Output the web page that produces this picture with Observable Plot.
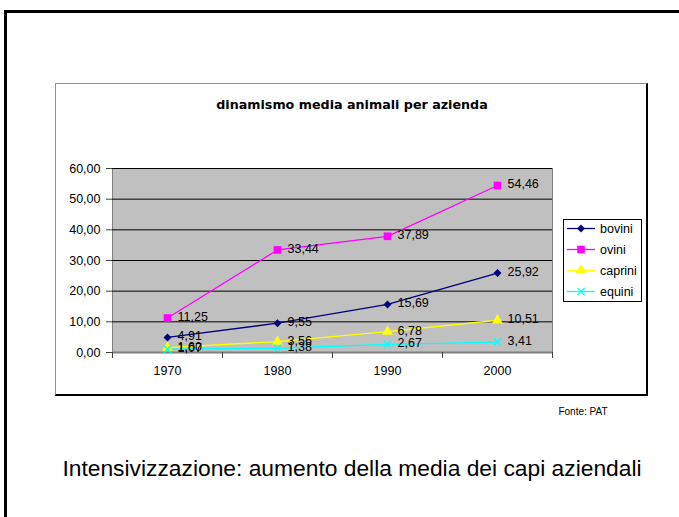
<!DOCTYPE html>
<html><head><meta charset="utf-8">
<script src="https://cdn.jsdelivr.net/npm/d3@7"></script>
<script src="https://cdn.jsdelivr.net/npm/@observablehq/plot@0.6"></script>
<style>
body{margin:0;background:#fff;}
#page{position:relative;width:679px;height:517px;overflow:hidden;font-family:"Liberation Sans",Arial,sans-serif;background:#fff;}
.abs{position:absolute;}
</style></head><body><div id="page">
<div class="abs" style="left:4px;top:10px;width:800px;height:700px;border-left:3px solid #000;border-top:3px solid #000;"></div>
<div class="abs" style="left:55px;top:83px;width:590px;height:310px;border-left:1px solid #909090;border-top:1px solid #909090;border-right:2px solid #000;border-bottom:2px solid #000;"></div>
<div class="abs" style="left:55px;top:97px;width:594px;line-height:16px;text-align:center;font-family:'DejaVu Sans',Verdana,sans-serif;font-weight:bold;font-size:12.7px;color:#000;">dinamismo media animali per azienda</div>
<div id="chart" class="abs" style="left:0;top:0;"></div>
<div id="legend" class="abs" style="left:563px;top:219px;"></div>
<div class="abs" style="left:533px;top:406px;width:100px;text-align:center;font-size:10px;line-height:12px;color:#000;">Fonte: PAT</div>
<div class="abs" style="left:2px;top:455px;width:700px;text-align:center;font-size:22.8px;line-height:26px;color:#000;">Intensivizzazione: aumento della media dei capi aziendali</div>
</div>
<script>
const years = [1970, 1980, 1990, 2000];
const bovini = [4.91, 9.55, 15.69, 25.92];
const ovini = [11.25, 33.44, 37.89, 54.46];
const caprini = [1.60, 3.56, 6.78, 10.51];
const equini = [1.07, 1.38, 2.67, 3.41];
const seriesNames = ["bovini", "ovini", "caprini", "equini"];
const seriesValues = [bovini, ovini, caprini, equini];
const seriesColors = ["#000080", "#ff00ff", "#ffff00", "#00ffff"];
const seriesSymbols = ["diamond2", "square", "triangle", "times"];
const symbolR = [3.6, 4.3, 4.0, 3.4];
const yTicks = [0, 10, 20, 30, 40, 50, 60];
const xSeparators = [1965, 1975, 1985, 1995, 2005];

const fmt = d => d3.format(".2f")(d).replace(".", ",");
const rows = seriesNames.flatMap((name, i) =>
  years.map((yr, j) => ({series: name, year: yr, value: seriesValues[i][j]})));

const dotMarks = seriesNames.map((name, i) => {
  const data = rows.filter(d => d.series === name);
  const opts = {x: "year", y: "value", symbol: () => seriesSymbols[i], r: symbolR[i]};
  if (seriesSymbols[i] === "times") { opts.stroke = seriesColors[i]; opts.strokeWidth = 1.3; opts.fill = "none"; }
  else { opts.fill = seriesColors[i]; opts.stroke = "none"; }
  return Plot.dot(data, opts);
});

const chart = Plot.plot({
  width: 679, height: 517,
  marginLeft: 112, marginRight: 127, marginTop: 168, marginBottom: 165,
  style: {fontFamily: "'Liberation Sans', Arial, sans-serif", fontSize: "12.5px", background: "transparent", color: "#000", overflow: "visible"},
  x: {type: "linear", domain: [1965, 2005]},
  y: {domain: [0, 60]},
  color: {domain: seriesNames, range: seriesColors},
  symbol: {domain: seriesSymbols, range: seriesSymbols},
  marks: [
    Plot.frame({fill: "#c0c0c0", stroke: "#808080"}),
    Plot.ruleY(yTicks.filter(d => d > 0), {stroke: "#000", strokeWidth: 1}),
    Plot.ruleY([0], {stroke: "#808080", strokeWidth: 2}),
    Plot.axisY({ticks: yTicks, tickFormat: fmt, tickSize: 6, tickPadding: 6, label: null, stroke: "#404040"}),
    Plot.axisX({ticks: xSeparators, tickFormat: () => "", tickSize: 6, label: null, stroke: "#404040"}),
    Plot.axisX({ticks: years, tickFormat: d => String(d), tickSize: 0, tickPadding: 14, label: null}),
    Plot.line(rows, {x: "year", y: "value", z: "series", stroke: "series", strokeWidth: 1.3}),
    ...dotMarks,
    Plot.text(rows, {x: "year", y: "value", text: d => fmt(d.value), dx: 10, dy: -1, textAnchor: "start", fontSize: 12.5, fill: "#000"})
  ]
});
document.getElementById("chart").appendChild(chart);

// Legend
const lg = d3.select("#legend").append("svg").attr("width", 80).attr("height", 84);
lg.append("rect").attr("x", 0.5).attr("y", 0.5).attr("width", 78).attr("height", 82).attr("fill", "#fff").attr("stroke", "#000");
const symMap = {diamond2: d3.symbolDiamond2, square: d3.symbolSquare, triangle: d3.symbolTriangle, times: d3.symbolTimes};
seriesNames.forEach((name, i) => {
  const y = 9.5 + i * 21;
  const g = lg.append("g");
  g.append("line").attr("x1", 4).attr("x2", 32).attr("y1", y).attr("y2", y).attr("stroke", seriesColors[i]).attr("stroke-width", 1.3);
  const p = g.append("path").attr("transform", `translate(18,${y})`)
    .attr("d", d3.symbol(symMap[seriesSymbols[i]], Math.PI * symbolR[i] * symbolR[i])());
  if (seriesSymbols[i] === "times") p.attr("fill", "none").attr("stroke", seriesColors[i]).attr("stroke-width", 1.3);
  else p.attr("fill", seriesColors[i]);
  g.append("text").attr("x", 37).attr("y", y).attr("dy", "0.35em").attr("font-size", 12.5)
    .attr("font-family", "'Liberation Sans', Arial, sans-serif").text(name);
});
</script>
</body></html>
